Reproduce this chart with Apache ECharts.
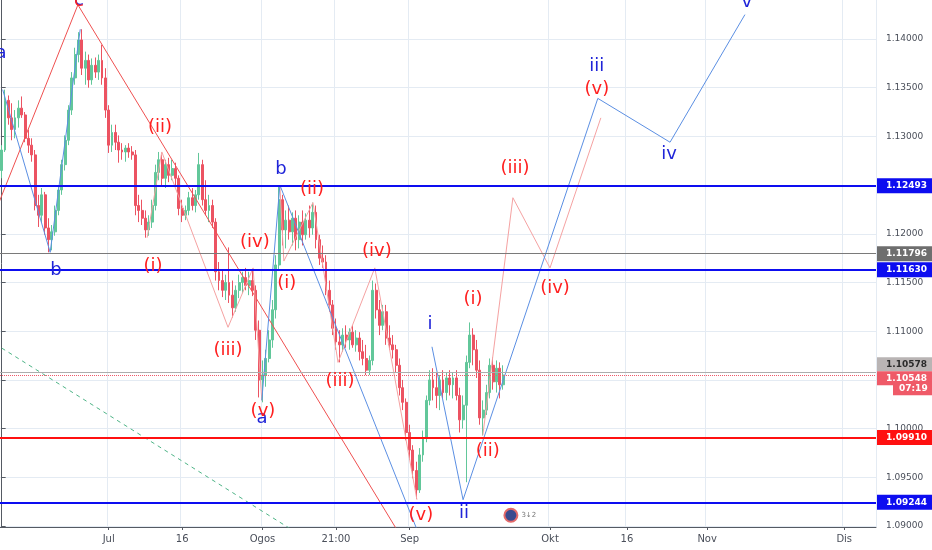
<!DOCTYPE html>
<html><head><meta charset="utf-8">
<script src="https://cdn.jsdelivr.net/npm/echarts@6/dist/echarts.min.js"></script>
<style>html,body{margin:0;padding:0;background:#fff}#c{width:932px;height:550px}</style>
</head><body><div id="c"></div>
<script>
// ---- axis structure ----
const slotCount = 262;               // half-trading-day slots across the window
const xTickSlots  = [32, 54, 78, 100, 122, 164, 187, 211, 252];
const xTickLabels = ['Jul', '16', 'Ogos', '21:00', 'Sep', 'Okt', '16', 'Nov', 'Dis'];
const yMin = 1.0899, yMax = 1.1440;
const yTickValues = [1.09, 1.095, 1.10, 1.105, 1.11, 1.115, 1.12, 1.125, 1.13, 1.135, 1.14];

// ---- candles (EUR/USD) ----
const opens = [
1.1265,1.1286,1.1337,1.1319,1.1307,1.1319,1.1329,1.1322,1.1298,1.1291,
1.1281,1.1229,1.1219,1.1240,1.1206,1.1194,1.1202,1.1224,1.1245,1.1271,
1.1296,1.1327,1.1360,1.1384,1.1399,1.1370,1.1378,1.1358,1.1373,1.1366,
1.1378,1.1360,1.1327,1.1291,1.1304,1.1294,1.1286,1.1284,1.1288,1.1284,
1.1281,1.1229,1.1224,1.1216,1.1204,1.1212,1.1229,1.1263,1.1276,1.1257,
1.1271,1.1260,1.1267,1.1257,1.1226,1.1219,1.1224,1.1237,1.1229,1.1240,
1.1271,1.1235,1.1224,1.1229,1.1212,1.1161,1.1152,1.1142,1.1150,1.1137,
1.1124,1.1142,1.1150,1.1155,1.1147,1.1152,1.1142,1.1101,1.1050,1.1055,
1.1072,1.1091,1.1122,1.1168,1.1235,1.1204,1.1214,1.1202,1.1216,1.1194,
1.1212,1.1199,1.1214,1.1206,1.1222,1.1194,1.1175,1.1171,1.1142,1.1127,
1.1103,1.1089,1.1086,1.1096,1.1091,1.1099,1.1086,1.1093,1.1079,1.1072,
1.1060,1.1070,1.1142,1.1122,1.1106,1.1120,1.1093,1.1086,1.1081,1.1065,
1.1042,1.1027,1.0996,1.0978,1.0957,1.0937,1.0973,1.0990,1.1029,1.1050,
1.1042,1.1034,1.1050,1.1037,1.1052,1.1045,1.1052,1.1034,1.1009,1.1024,
1.1068,1.1096,1.1081,1.1060,1.1011,1.1019,1.1037,1.1065,1.1048,1.1062,
1.1045];
const closes = [
1.1286,1.1337,1.1319,1.1307,1.1319,1.1329,1.1322,1.1298,1.1291,1.1281,
1.1229,1.1219,1.1240,1.1206,1.1194,1.1202,1.1224,1.1245,1.1271,1.1296,
1.1327,1.1360,1.1384,1.1399,1.1370,1.1378,1.1358,1.1373,1.1366,1.1378,
1.1360,1.1327,1.1291,1.1304,1.1294,1.1286,1.1284,1.1288,1.1284,1.1281,
1.1229,1.1224,1.1216,1.1204,1.1212,1.1229,1.1263,1.1276,1.1257,1.1271,
1.1260,1.1267,1.1257,1.1226,1.1219,1.1224,1.1237,1.1229,1.1240,1.1271,
1.1235,1.1224,1.1229,1.1212,1.1161,1.1152,1.1142,1.1150,1.1137,1.1124,
1.1142,1.1150,1.1155,1.1147,1.1152,1.1142,1.1101,1.1050,1.1055,1.1072,
1.1091,1.1122,1.1168,1.1235,1.1204,1.1214,1.1202,1.1216,1.1194,1.1212,
1.1199,1.1214,1.1206,1.1222,1.1194,1.1175,1.1171,1.1142,1.1127,1.1103,
1.1089,1.1086,1.1096,1.1091,1.1099,1.1086,1.1093,1.1079,1.1072,1.1060,
1.1070,1.1142,1.1122,1.1106,1.1120,1.1093,1.1086,1.1081,1.1065,1.1042,
1.1027,1.0996,1.0978,1.0957,1.0937,1.0973,1.0990,1.1029,1.1050,1.1042,
1.1034,1.1050,1.1037,1.1052,1.1045,1.1052,1.1034,1.1009,1.1024,1.1068,
1.1096,1.1081,1.1060,1.1011,1.1019,1.1037,1.1065,1.1048,1.1062,1.1045,
1.1055];
const lows = [
1.1257,1.1284,1.1312,1.1296,1.1298,1.1309,1.1319,1.1294,1.1283,1.1274,
1.1224,1.1207,1.1212,1.1199,1.1181,1.1183,1.1198,1.1219,1.1240,1.1265,
1.1291,1.1322,1.1353,1.1376,1.1363,1.1353,1.1350,1.1353,1.1360,1.1358,
1.1353,1.1319,1.1283,1.1284,1.1286,1.1273,1.1276,1.1274,1.1278,1.1276,
1.1219,1.1212,1.1209,1.1196,1.1198,1.1206,1.1224,1.1255,1.1250,1.1247,
1.1253,1.1255,1.1250,1.1219,1.1212,1.1214,1.1219,1.1224,1.1222,1.1235,
1.1229,1.1219,1.1212,1.1206,1.1152,1.1142,1.1135,1.1132,1.1129,1.1114,
1.1120,1.1134,1.1139,1.1142,1.1137,1.1136,1.1091,1.1032,1.1027,1.1043,
1.1068,1.1083,1.1113,1.1163,1.1188,1.1185,1.1194,1.1188,1.1183,1.1185,
1.1188,1.1194,1.1196,1.1199,1.1185,1.1168,1.1165,1.1137,1.1120,1.1096,
1.1081,1.1068,1.1079,1.1083,1.1081,1.1083,1.1079,1.1070,1.1065,1.1055,
1.1055,1.1065,1.1113,1.1096,1.1101,1.1086,1.1081,1.1072,1.1058,1.1034,
1.1019,1.0988,1.0968,1.0949,1.0928,1.0934,1.0966,1.0986,1.1024,1.1029,
1.1021,1.1019,1.1031,1.1029,1.1034,1.1031,1.1029,1.0996,1.1000,1.0945,
1.1062,1.1065,1.1052,1.1004,1.0993,1.1014,1.1031,1.1040,1.1037,1.1031,
1.1040];
const highs = [
1.1291,1.1348,1.1342,1.1334,1.1327,1.1337,1.1341,1.1325,1.1307,1.1298,
1.1286,1.1240,1.1247,1.1243,1.1216,1.1209,1.1229,1.1250,1.1276,1.1301,
1.1332,1.1366,1.1391,1.1407,1.1410,1.1387,1.1384,1.1380,1.1381,1.1384,
1.1394,1.1370,1.1332,1.1312,1.1312,1.1301,1.1293,1.1291,1.1293,1.1290,
1.1286,1.1240,1.1235,1.1224,1.1219,1.1235,1.1271,1.1284,1.1281,1.1276,
1.1278,1.1276,1.1273,1.1260,1.1235,1.1229,1.1243,1.1247,1.1245,1.1283,
1.1276,1.1255,1.1240,1.1235,1.1216,1.1171,1.1163,1.1158,1.1186,1.1152,
1.1147,1.1158,1.1161,1.1165,1.1161,1.1163,1.1147,1.1111,1.1070,1.1081,
1.1101,1.1132,1.1178,1.1250,1.1240,1.1224,1.1229,1.1222,1.1224,1.1219,
1.1224,1.1221,1.1229,1.1232,1.1229,1.1199,1.1188,1.1178,1.1152,1.1132,
1.1113,1.1101,1.1103,1.1106,1.1103,1.1106,1.1101,1.1099,1.1091,1.1086,
1.1075,1.1152,1.1149,1.1132,1.1127,1.1127,1.1106,1.1096,1.1086,1.1072,
1.1050,1.1031,1.1004,1.0983,1.0966,1.0980,1.0998,1.1034,1.1060,1.1062,
1.1058,1.1055,1.1060,1.1058,1.1060,1.1058,1.1060,1.1042,1.1034,1.1075,
1.1109,1.1103,1.1091,1.1070,1.1029,1.1045,1.1072,1.1073,1.1070,1.1068,
1.1065];

// ---- horizontal levels ----
const blueLevels = [1.12493, 1.11630, 1.09244];
const grayLevel = 1.11796;
const redLevel = 1.09910;
const prevClose = 1.10578;
const lastPrice = 1.10548;
const countdownText = '07:19';

// ---- wave drawings: [slot, price] ----
const blueWaveABC   = [[0.3,1.1348],[14.5,1.1181],[23.5,1.1410]];
const redWaveC      = [[-3.5,1.1209],[22.8,1.1435],[120.0,1.0886]];
const pinkWave1     = [[43.5,1.1196],[47.9,1.1284],[67.7,1.1104],[75.2,1.1165],[77.8,1.1029]];
const blueWaveAB    = [[77.8,1.1029],[83.2,1.1250],[125.4,1.0886]];
const pinkWave2     = [[83.2,1.1250],[84.4,1.1172],[93.1,1.1232],[100.6,1.1068],[111.6,1.1165],[124.2,1.0927]];
const blueImpulse   = [[128.7,1.1084],[138.0,1.0927],[178.3,1.1339],[199.9,1.1294],[222.3,1.1425]];
const pinkProjection= [[143.9,1.0993],[152.9,1.1237],[164.0,1.1165],[179.2,1.1319]];
const greenTrend    = [[-2.0,1.1087],[89.2,1.0891]];
const eventMarker   = [152.3, 1.0911];

// ---- wave labels: [text, slot, price] ----
const blueLabels = [
 ['a',-0.2,1.1385],['c',23.1,1.1440],['b',16.25,1.1162],['b',83.5,1.1266],['a',77.85,1.1011],
 ['i',128.1,1.1107],['ii',138.25,1.0913],['iii',178.0,1.1372],['iv',199.6,1.1282],['v',222.9,1.1438]];
const redLabels = [
 ['c',23.1,1.1439],['(ii)',47.35,1.1309],['(i)',45.25,1.1167],['(iv)',75.75,1.1191],['(iii)',67.7,1.1080],
 ['(v)',78.15,1.1018],['(ii)',92.8,1.1246],['(i)',85.3,1.1149],['(iv)',112.2,1.1182],['(iii)',101.2,1.1049],
 ['(v)',125.4,1.0911],['(i)',141.0,1.1133],['(ii)',145.4,1.0977],['(iii)',153.5,1.1267],['(iv)',165.5,1.1144],
 ['(v)',178.0,1.1348]];

// ---- build ----
const categories = Array.from({length: slotCount}, (_, i) => String(i));
const tickMap = {};
xTickSlots.forEach((s, i) => { tickMap[s] = xTickLabels[i]; });
const isTick = (i) => tickMap[i] !== undefined;
const candleData = opens.map((o, i) => [o, closes[i], lows[i], highs[i]]);

const FONT = 'DejaVu Sans';
const BLUE_LINE = '#0d0df0';
function tag(bg, fg) {
  return {show: true, position: 'end', distance: 1, formatter: p => p.value.toFixed(5),
    backgroundColor: bg, color: fg, padding: [3, 5, 2, 9], fontSize: 9, fontFamily: FONT,
    fontWeight: 'bold', lineHeight: 10};
}
const markData = [];
blueLevels.forEach(v => markData.push({yAxis: v, lineStyle: {color: BLUE_LINE, width: 2, type: 'solid'}, label: tag('#0d0df0', '#fff')}));
markData.push({yAxis: grayLevel, lineStyle: {color: '#7a7a7a', width: 1, type: 'solid'}, label: tag('#6e6e6e', '#fff')});
markData.push({yAxis: redLevel, lineStyle: {color: '#ff1010', width: 2, type: 'solid'}, label: tag('#ff1010', '#fff')});
markData.push({yAxis: prevClose, lineStyle: {color: '#adadad', width: 1, type: 'solid'},
  label: {show: true, position: 'end', distance: 1, padding: [0, 0, 16, 0],
    formatter: p => '{t|' + p.value.toFixed(5) + '}',
    rich: {t: {backgroundColor: '#b9b4b4', color: '#2b2b2b', padding: [3, 5, 2, 9], fontSize: 9, fontFamily: FONT, fontWeight: 'bold', lineHeight: 10}}}});
markData.push({yAxis: lastPrice, lineStyle: {color: '#f0596a', width: 1, type: 'dotted'},
  label: {show: true, position: 'end', distance: 1, padding: [16, 0, 0, 0],
    formatter: p => '{a|' + p.value.toFixed(5) + '}\n{s| }{b|' + countdownText + '}',
    rich: {
      a: {backgroundColor: '#ef5a68', color: '#fff', padding: [3, 5, 2, 9], fontSize: 9, fontFamily: FONT, fontWeight: 'bold', lineHeight: 10},
      s: {width: 16, fontSize: 9, lineHeight: 10},
      b: {backgroundColor: '#ef5a68', color: '#fff', padding: [3, 6, 2, 6], fontSize: 9, fontFamily: FONT, fontWeight: 'bold', lineHeight: 10}
    }}});

function wave(data, color, width, type) {
  return {type: 'line', xAxisIndex: 1, yAxisIndex: 0, data: data, symbol: 'none', silent: true,
    clip: true, z: 4, lineStyle: {color: color, width: width, type: type || 'solid'}};
}
function labels(data, color) {
  return {type: 'scatter', xAxisIndex: 1, yAxisIndex: 0, symbolSize: 0, silent: true, z: 6,
    itemStyle: {opacity: 1},
    data: data.map(d => [d[1], d[2], d[0]]),
    label: {show: true, position: 'inside', formatter: p => p.data[2], color: color, opacity: 1,
      fontSize: 18, fontFamily: FONT}};
}

const chart = echarts.init(document.getElementById('c'), null, {renderer: 'canvas', width: 932, height: 550});
chart.setOption({
  animation: false,
  backgroundColor: '#ffffff',
  grid: {left: 0, right: 56, top: 0, bottom: 23},
  xAxis: [
    {type: 'category', data: categories, boundaryGap: true,
      axisLine: {show: true, lineStyle: {color: '#555a63', width: 1}},
      axisTick: {show: true, interval: (i) => isTick(i), alignWithLabel: true, length: 3, lineStyle: {color: '#555a63'}},
      axisLabel: {interval: (i) => isTick(i), formatter: (v, i) => tickMap[i] || '', color: '#4a4f5a',
        fontSize: 10, fontFamily: FONT, margin: 7},
      splitLine: {show: true, interval: (i) => isTick(i), lineStyle: {color: '#e4ebf3', width: 1}}},
    {type: 'value', min: -0.5, max: slotCount - 0.5, show: false}
  ],
  yAxis: [{type: 'value', position: 'right', min: yMin, max: yMax,
    axisLine: {show: true, lineStyle: {color: '#555a63'}},
    axisTick: {show: true, length: 4, customValues: yTickValues, lineStyle: {color: '#555a63'}},
    axisLabel: {customValues: yTickValues, formatter: v => v.toFixed(5), color: '#4a4f5a',
      fontSize: 9, fontFamily: FONT, margin: 10},
    splitLine: {show: true, lineStyle: {color: '#e4ebf3', width: 1}}}],
  series: [
    {type: 'candlestick', xAxisIndex: 0, yAxisIndex: 0, data: candleData, barWidth: 2.4, z: 2,
      itemStyle: {color: '#62c79a', color0: '#ec5362', borderColor: '#62c79a', borderColor0: '#ec5362', borderWidth: 1},
      markLine: {silent: true, symbol: ['none', 'none'], precision: 5, animation: false, data: markData}},
    wave(greenTrend, '#4fb487', 1, [4, 4]),
    wave(redWaveC, '#ef5050', 1),
    wave(pinkWave1, '#f5a2a2', 1),
    wave(pinkWave2, '#f5a2a2', 1),
    wave(pinkProjection, '#f5a2a2', 1),
    wave(blueWaveABC, '#5b8fe3', 1),
    wave(blueWaveAB, '#5b8fe3', 1),
    wave(blueImpulse, '#5b8fe3', 1),
    {type: 'scatter', xAxisIndex: 1, yAxisIndex: 0, silent: true, z: 5, symbolSize: 13,
      data: [eventMarker],
      itemStyle: {color: '#3b4a8e', borderColor: '#e46a6a', borderWidth: 2, opacity: 1},
      label: {show: true, position: 'right', distance: 3, formatter: '3\u21932', color: '#777', fontSize: 7, fontFamily: FONT}},
    labels(blueLabels, '#1f24d8'),
    labels(redLabels, '#ff1f1f')
  ]
});
</script>
</body></html>
